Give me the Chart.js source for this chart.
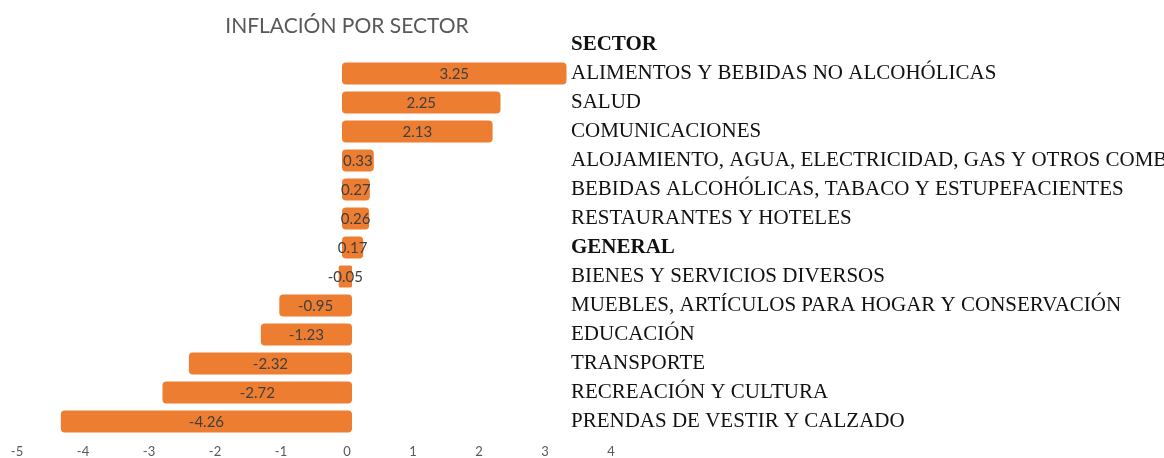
<!DOCTYPE html>
<html>
<head>
<meta charset="utf-8">
<script src="https://cdn.jsdelivr.net/npm/chart.js@4/dist/chart.umd.min.js"></script>
<style>
  html, body { margin: 0; padding: 0; background: #fff; }
  #wrap { position: relative; width: 1164px; height: 458px; }
</style>
</head>
<body>
<div id="wrap"><canvas id="chart"></canvas></div>
<script>
// sectors, top to bottom (first row is the header, no bar)
const sectors = [
  'SECTOR',
  'ALIMENTOS Y BEBIDAS NO ALCOHÓLICAS',
  'SALUD',
  'COMUNICACIONES',
  'ALOJAMIENTO, AGUA, ELECTRICIDAD, GAS Y OTROS COMB',
  'BEBIDAS ALCOHÓLICAS, TABACO Y ESTUPEFACIENTES',
  'RESTAURANTES Y HOTELES',
  'GENERAL',
  'BIENES Y SERVICIOS DIVERSOS',
  'MUEBLES, ARTÍCULOS PARA HOGAR Y CONSERVACIÓN',
  'EDUCACIÓN',
  'TRANSPORTE',
  'RECREACIÓN Y CULTURA',
  'PRENDAS DE VESTIR Y CALZADO'
];
const inflation = [null, 3.25, 2.25, 2.13, 0.33, 0.27, 0.26, 0.17, -0.05, -0.95, -1.23, -2.32, -2.72, -4.26];
const boldRows = ['SECTOR', 'GENERAL'];
const xMin = -5;
const xMax = 5;
const hiddenTicks = [5];

const ORANGE = '#ED7D31';

// value labels centred on each bar
const barLabels = {
  id: 'barLabels',
  afterDatasetsDraw(chart) {
    const ctx = chart.ctx;
    const meta = chart.getDatasetMeta(0);
    ctx.save();
    ctx.font = '15px Lato, "Open Sans", sans-serif';
    ctx.fillStyle = '#404040';
    ctx.textAlign = 'center';
    ctx.textBaseline = 'middle';
    meta.data.forEach((bar, i) => {
      const v = inflation[i];
      if (v === null) return;
      ctx.fillText(v.toFixed(2), (bar.x + bar.base) / 2, bar.y + 1);
    });
    ctx.restore();
  }
};

new Chart(document.getElementById('chart').getContext('2d'), {
  type: 'bar',
  data: {
    labels: sectors,
    datasets: [{
      data: inflation,
      backgroundColor: ORANGE,
      borderWidth: 0,
      borderRadius: 4,
      borderSkipped: false,
      inflateAmount: 5,
      barPercentage: 0.42,
      categoryPercentage: 1
    }]
  },
  options: {
    indexAxis: 'y',
    responsive: true,
    maintainAspectRatio: false,
    animation: false,
    layout: { padding: { left: 17, right: 487, top: 0, bottom: 0 } },
    plugins: {
      legend: { display: false },
      tooltip: { enabled: false },
      title: {
        display: true,
        fullSize: false,
        text: 'INFLACIÓN POR SECTOR',
        color: '#595959',
        font: { family: 'Lato, sans-serif', size: 21, weight: 'normal', lineHeight: 1 },
        padding: { top: 16, bottom: -7 }
      }
    },
    scales: {
      x: {
        min: xMin,
        max: xMax,
        grid: { display: false, drawTicks: false },
        border: { display: false },
        afterFit: (scale) => { scale.height = 22; },
        ticks: {
          stepSize: 1,
          color: '#595959',
          padding: 8,
          font: { family: 'Lato, "Open Sans", sans-serif', size: 13 },
          callback: (value) => hiddenTicks.includes(value) ? '' : value
        }
      },
      y: {
        position: 'left',
        grid: { display: false, drawTicks: false },
        border: { display: false },
        afterFit: (scale) => {
          scale.width = 0;
          scale.paddingTop = 0;
          scale.paddingBottom = 0;
        },
        ticks: {
          mirror: true,
          crossAlign: 'near',
          autoSkip: false,
          padding: 554,
          color: '#111',
          font: (ctx) => ({
            family: '"Liberation Serif", "Times New Roman", serif',
            size: 21,
            weight: boldRows.includes(sectors[ctx.index]) ? 'bold' : 'normal'
          })
        }
      }
    }
  },
  plugins: [barLabels]
});
</script>
</body>
</html>
